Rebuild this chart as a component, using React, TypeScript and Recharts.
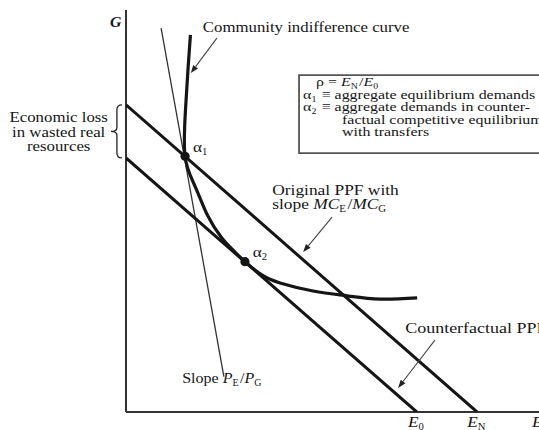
import React from 'react';
import {
  ComposedChart,
  Line,
  Scatter,
  XAxis,
  YAxis,
  ReferenceLine,
  ReferenceDot,
  ReferenceArea,
} from 'recharts';

// production possibilities frontiers (E on x, G on y)
const originalPPF = [
  { x: 0, y: 7.64 },
  { x: 8.5, y: 0 },
];
const counterfactualPPF = [
  { x: 0, y: 6.32 },
  { x: 7.04, y: 0 },
];
const indifferenceCurve = [
  { x: 1.56, y: 9.38 },
  { x: 1.5, y: 8.51 },
  { x: 1.44, y: 7.51 },
  { x: 1.43, y: 6.36 },
  { x: 1.67, y: 5.62 },
  { x: 1.98, y: 4.88 },
  { x: 2.32, y: 4.33 },
  { x: 2.59, y: 4.03 },
  { x: 2.88, y: 3.74 },
  { x: 3.29, y: 3.41 },
  { x: 3.73, y: 3.21 },
  { x: 4.53, y: 3.01 },
  { x: 5.35, y: 2.89 },
  { x: 6.15, y: 2.81 },
  { x: 7.05, y: 2.84 },
];
const priceSlope = [
  { x: 0.85, y: 9.55 },
  { x: 2.37, y: 0.88 },
];
const equilibria = [
  { x: 1.43, y: 6.36, sub: '1' },
  { x: 2.88, y: 3.74, sub: '2' },
];
const lossLines = ['Economic loss', 'in wasted real', 'resources'];
const boxLines = [
  'aggregate equilibrium demands',
  'aggregate demands in counter-',
  'factual competitive equilibrium',
  'with transfers',
];

const SERIF = '"Liberation Serif", "Times New Roman", serif';
const INK = '#151515';

const Sub = ({ main, sub, italic = true }: { main: string; sub: string; italic?: boolean }) => (
  <>
    <tspan fontStyle={italic ? 'italic' : 'normal'}>{main}</tspan>
    <tspan fontSize="0.62em" dy={3}>{sub}</tspan>
    <tspan dy={-3}>{'\u200a'}</tspan>
  </>
);

// stretched serif text, to get closer to the wide TeX lettering
const T = ({
  x,
  y,
  size = 15,
  sx = 1.15,
  anchor = 'start',
  style,
  weight,
  children,
}: {
  x: number;
  y: number;
  size?: number;
  sx?: number;
  anchor?: 'start' | 'middle' | 'end';
  style?: string;
  weight?: string;
  children: React.ReactNode;
}) => (
  <g transform={`translate(${x},${y}) scale(${sx},1)`}>
    <text x={0} y={0} fontSize={size} textAnchor={anchor} fill={INK} fontStyle={style} fontWeight={weight}>
      {children}
    </text>
  </g>
);

const arrowShape = (p: any) => {
  const { x1, y1, x2, y2 } = p;
  const a = Math.atan2(y2 - y1, x2 - x1);
  const len = 8;
  const w = 3;
  const bx = x2 - len * Math.cos(a);
  const by = y2 - len * Math.sin(a);
  const pts = [
    `${x2},${y2}`,
    `${bx + w * Math.sin(a)},${by - w * Math.cos(a)}`,
    `${bx - w * Math.sin(a)},${by + w * Math.cos(a)}`,
  ].join(' ');
  return (
    <g>
      <line x1={x1} y1={y1} x2={bx} y2={by} stroke="#444" strokeWidth={1.1} />
      <polygon points={pts} fill="#222" />
    </g>
  );
};

const braceShape = (p: any) => {
  const { x1, y1, y2 } = p;
  const x = x1;
  const mid = (y1 + y2) / 2;
  const d = `M${x + 5},${y1} Q${x},${y1} ${x},${y1 + 5} L${x},${mid - 4} Q${x},${mid} ${x - 6},${mid} Q${x},${mid} ${x},${mid + 4} L${x},${y2 - 5} Q${x},${y2} ${x + 5},${y2}`;
  return <path d={d} fill="none" stroke="#222" strokeWidth={1.3} />;
};

const note = (key: string, x: number, y: number, render: (cx: number, cy: number) => React.ReactNode) => (
  <ReferenceDot
    key={key}
    x={x}
    y={y}
    r={0}
    ifOverflow="visible"
    shape={(p: any) => <g>{render(p.cx, p.cy)}</g>}
  />
);

const arrow = (key: string, from: [number, number], to: [number, number]) => (
  <ReferenceLine
    key={key}
    segment={[
      { x: from[0], y: from[1] },
      { x: to[0], y: to[1] },
    ]}
    ifOverflow="visible"
    shape={arrowShape}
  />
);

export default function App() {
  return (
    <div style={{ position: 'absolute', left: 0, top: 0, background: '#fff' }}>
      <ComposedChart
        width={539}
        height={430}
        margin={{ top: 10, right: 0, bottom: 18, left: 126 }}
        style={{ fontFamily: SERIF }}
      >
        <XAxis type="number" dataKey="x" domain={[0, 10]} hide allowDataOverflow />
        <YAxis type="number" dataKey="y" domain={[0, 10]} hide allowDataOverflow />

        <ReferenceLine x={0} stroke="#333" strokeWidth={2} />
        <ReferenceLine y={0} stroke="#333" strokeWidth={2} />

        <ReferenceArea
          x1={4.19}
          x2={10.3}
          y1={6.44}
          y2={8.38}
          ifOverflow="visible"
          fill="#fff"
          fillOpacity={1}
          stroke="#555"
          strokeWidth={1.8}
        />

        <Line
          data={priceSlope}
          dataKey="y"
          stroke="#333"
          strokeWidth={1.3}
          dot={false}
          activeDot={false}
          isAnimationActive={false}
        />
        <Line
          data={originalPPF}
          dataKey="y"
          stroke={INK}
          strokeWidth={3}
          dot={false}
          activeDot={false}
          isAnimationActive={false}
        />
        <Line
          data={counterfactualPPF}
          dataKey="y"
          stroke={INK}
          strokeWidth={3}
          dot={false}
          activeDot={false}
          isAnimationActive={false}
        />
        <Line
          data={indifferenceCurve}
          type="natural"
          dataKey="y"
          stroke={INK}
          strokeWidth={3.2}
          dot={false}
          activeDot={false}
          isAnimationActive={false}
        />
        <Scatter
          data={equilibria}
          dataKey="y"
          fill={INK}
          shape={(p: any) => <circle cx={p.cx} cy={p.cy} r={4.6} fill={INK} />}
          isAnimationActive={false}
        />

        {arrow('a-community', [2.2, 9.3], [1.57, 8.43])}
        {arrow('a-original', [4.99, 4.85], [4.29, 3.98])}
        {arrow('a-counter', [7.48, 1.79], [6.59, 0.6])}

        <ReferenceLine
          segment={[
            { x: -0.22, y: originalPPF[0].y },
            { x: -0.22, y: counterfactualPPF[0].y },
          ]}
          ifOverflow="visible"
          shape={braceShape}
        />

        {note('g', -0.39, 9.58, (cx, cy) => (
          <T x={cx} y={cy} style="italic" weight="bold" sx={1.05}>
            G
          </T>
        ))}
        {note('e-axis', 9.83, -0.38, (cx, cy) => (
          <T x={cx} y={cy} style="italic">
            E
          </T>
        ))}
        {note('e0', counterfactualPPF[1].x, -0.38, (cx, cy) => (
          <T x={cx} y={cy} anchor="middle">
            <Sub main="E" sub="0" />
          </T>
        ))}
        {note('en', originalPPF[1].x, -0.38, (cx, cy) => (
          <T x={cx} y={cy} anchor="middle">
            <Sub main="E" sub="N" />
          </T>
        ))}
        {equilibria.map((e) =>
          note('alpha' + e.sub, e.x + 0.19, e.y + 0.12, (cx, cy) => (
            <T x={cx} y={cy}>
              <Sub main="α" sub={e.sub} italic={false} />
            </T>
          )),
        )}
        {note('community', 1.86, 9.45, (cx, cy) => (
          <T x={cx} y={cy} sx={1.12}>
            Community indifference curve
          </T>
        ))}
        {note('original', 3.54, 5.4, (cx, cy) => (
          <T x={cx} y={cy} sx={1.16}>
            <tspan x={0}>Original PPF with</tspan>
            <tspan x={0} dy={14}>
              slope <Sub main="MC" sub="E" />/<Sub main="MC" sub="G" />
            </tspan>
          </T>
        ))}
        {note('counter', 6.76, 1.97, (cx, cy) => (
          <T x={cx} y={cy} sx={1.2}>
            Counterfactual PPF
          </T>
        ))}
        {note('slope', 1.36, 0.72, (cx, cy) => (
          <T x={cx} y={cy} sx={1.07}>
            Slope <Sub main="P" sub="E" />/<Sub main="P" sub="G" />
          </T>
        ))}
        {note('loss', -1.63, 7.21, (cx, cy) => (
          <T x={cx} y={cy} anchor="middle" sx={1.12}>
            {lossLines.map((l, i) => (
              <tspan key={l} x={0} dy={i === 0 ? 0 : 14.5}>
                {l}
              </tspan>
            ))}
          </T>
        ))}
        {note('box', 4.19, 8.38, (cx, cy) => (
          <g>
            <T x={cx + 17} y={cy + 11} size={13.5} sx={1.18}>
              ρ = <Sub main="E" sub="N" />/<Sub main="E" sub="0" />
            </T>
            <T x={cx + 4} y={cy + 23.5} size={13.5} sx={1.18}>
              <Sub main="α" sub="1" italic={false} /> ≡ {boxLines[0]}
            </T>
            <T x={cx + 4} y={cy + 36} size={13.5} sx={1.18}>
              <Sub main="α" sub="2" italic={false} /> ≡ {boxLines[1]}
            </T>
            <T x={cx + 43} y={cy + 48.5} size={13.5} sx={1.18}>
              {boxLines[2]}
            </T>
            <T x={cx + 43} y={cy + 61} size={13.5} sx={1.18}>
              {boxLines[3]}
            </T>
          </g>
        ))}
      </ComposedChart>
    </div>
  );
}
